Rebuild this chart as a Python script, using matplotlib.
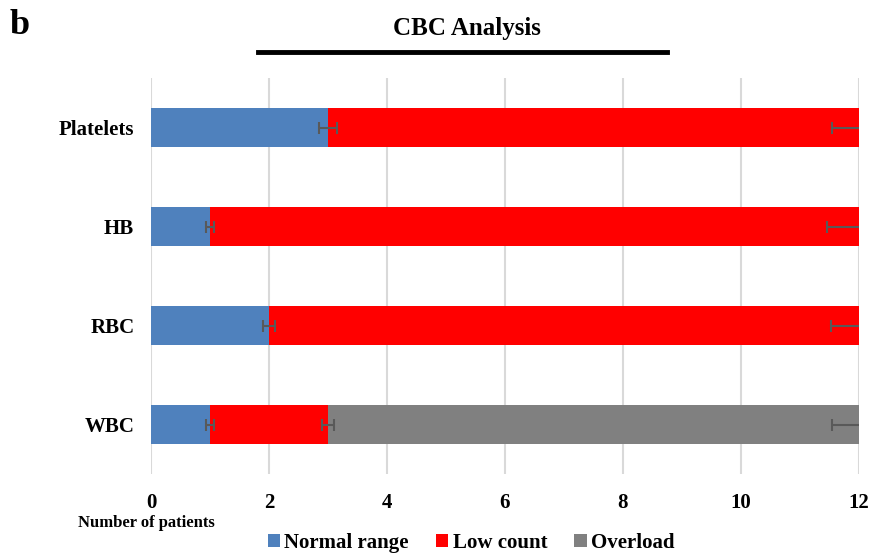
import matplotlib.pyplot as plt
import numpy as np

# CBC data (number of patients)
categories = ["WBC", "RBC", "HB", "Platelets"]
normal = [1, 2, 1, 3]
low = [2, 10, 11, 9]
overload = [9, 0, 0, 0]
normal_err = [0.07, 0.1, 0.07, 0.15]
low_err = [0.1, 0.48, 0.55, 0.45]
overload_err = [0.45, 0, 0, 0]
xticks = [0, 2, 4, 6, 8, 10, 12]

colors = {"Normal range": "#4F81BD", "Low count": "#FF0000", "Overload": "#808080"}
err_color = "#595959"

plt.rcParams['font.family'] = ['Liberation Serif', 'DejaVu Serif']
plt.rcParams['font.weight'] = 'bold'

fig = plt.figure(figsize=(8.71, 5.54), dpi=100)
ax = fig.add_axes([151/871, 1 - 474/554, (859-151)/871, (474-78)/554])

y = np.arange(len(categories))
normal = np.array(normal)
low = np.array(low)
overload = np.array(overload)
h = 0.4

ax.barh(y, normal, height=h, color=colors["Normal range"], label="Normal range", zorder=2)
ax.barh(y, low, left=normal, height=h, color=colors["Low count"], label="Low count", zorder=2)
mask = overload > 0
ax.barh(y[mask], overload[mask], left=(normal + low)[mask], height=h,
        color=colors["Overload"], label="Overload", zorder=2)

# error bars at the end of each segment
ekw = dict(fmt='none', ecolor=err_color, elinewidth=1.5, capsize=4, capthick=1.5, zorder=3)
ax.errorbar(normal, y, xerr=normal_err, **ekw)
ax.errorbar(normal + low, y, xerr=low_err, **ekw)
ax.errorbar((normal + low + overload)[mask], y[mask], xerr=np.array(overload_err)[mask], **ekw)

ax.set_xlim(0, 12)
ax.set_ylim(-0.5, 3.5)
ax.set_xticks(xticks)
ax.set_xticklabels([str(t) for t in xticks], fontsize=15, fontweight='bold')
ax.set_yticks(y)
ax.set_yticklabels(categories, fontsize=15, fontweight='bold')
ax.tick_params(axis='both', length=0)
ax.tick_params(axis='x', pad=14)
ax.tick_params(axis='y', pad=12)
for s in ax.spines.values():
    s.set_visible(False)
ax.grid(axis='x', color='#D9D9D9', linewidth=1.5, zorder=0)
ax.set_axisbelow(True)

# title with thick underline
fig.text(467/871, 1 - 29/554, "CBC Analysis", ha='center', va='center', fontsize=18, fontweight='bold')
fig.add_artist(plt.Line2D([258/871, 667/871], [1 - 52/554, 1 - 52/554], color='black', linewidth=3.5))
fig.text(10/871, 1 - 25/554, "b", ha='left', va='center', fontsize=26, fontweight='bold')

fig.text(78/871, 1 - 523/554, "Number of patients", ha='left', va='center', fontsize=12, fontweight='bold')

fig.legend(loc='center', bbox_to_anchor=(471/871, 1 - 543/554), ncol=3, frameon=False,
           prop={'size': 15, 'weight': 'bold'}, handlelength=0.6, handleheight=0.6,
           handletextpad=0.2, columnspacing=1.3, borderaxespad=0)

fig.savefig('out.png', dpi=100)
